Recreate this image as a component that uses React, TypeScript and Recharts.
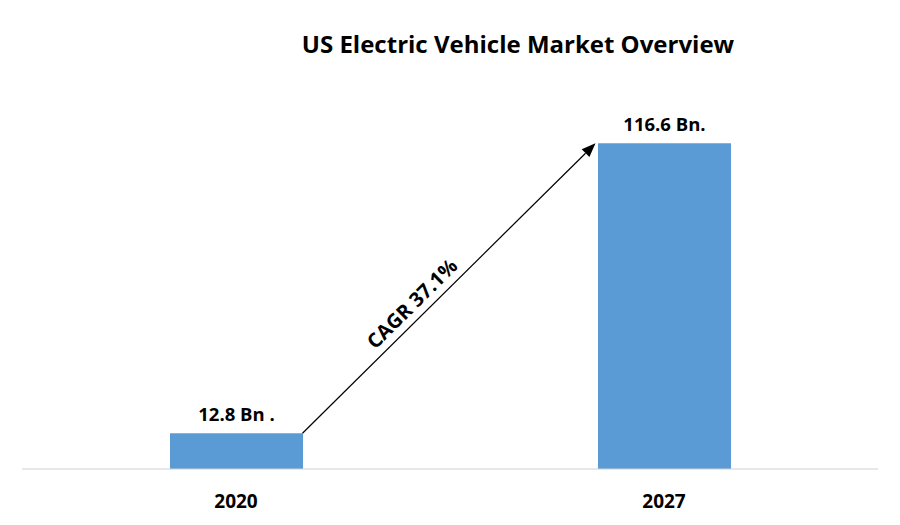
import { Bar, BarChart, LabelList, ReferenceLine, XAxis, YAxis } from "recharts";

// Values.
const years = ["2020", "2027"];
const marketSize = [12.8, 116.6];
const valueLabels = ["12.8 Bn .", "116.6 Bn."];
const cagrText = "CAGR 37.1%";

const data = years.map((year, i) => ({
  year,
  value: marketSize[i],
  label: valueLabels[i],
}));

const FONT = "'Open Sans', 'Noto Sans', sans-serif";
const BAR_SIZE = 133;
const BAR_COLOR = "#5B9BD5";

/** Year ticks under the axis. */
function YearTick(props: any) {
  const { x, y, payload } = props;
  return (
    <text
      x={x}
      y={y + 26}
      textAnchor="middle"
      dominantBaseline="middle"
      fontFamily={FONT}
      fontWeight={700}
      fontSize={19}
      fill="#000"
    >
      {payload.value}
    </text>
  );
}

/** Arrow running from the top-right corner of the first bar to the
 *  top-left corner of the second one, with the CAGR text along it. */
function CagrArrow(props: any) {
  const { x1, y1, x2, y2 } = props;
  if (x1 == null || x2 == null) return null;
  const sx = x1 + BAR_SIZE / 2;
  const sy = y1;
  const ex = x2 - BAR_SIZE / 2 - 2;
  const ey = y2;
  const ang = Math.atan2(ey - sy, ex - sx);
  const head = 14;
  const half = 5.5;
  const bx = ex - head * Math.cos(ang);
  const by = ey - head * Math.sin(ang);
  const px = -Math.sin(ang) * half;
  const py = Math.cos(ang) * half;
  const t = 0.41;
  const tx = sx + (ex - sx) * t;
  const ty = sy + (ey - sy) * t;
  const deg = (ang * 180) / Math.PI;
  return (
    <g>
      <line x1={sx} y1={sy} x2={bx} y2={by} stroke="#000" strokeWidth={1.2} />
      <polygon
        points={`${ex},${ey} ${bx + px},${by + py} ${bx - px},${by - py}`}
        fill="#000"
      />
      <text
        x={tx}
        y={ty}
        dy={-8}
        transform={`rotate(${deg} ${tx} ${ty})`}
        textAnchor="middle"
        fontFamily={FONT}
        fontWeight={700}
        fontSize={20}
        fill="#000"
      >
        {cagrText}
      </text>
    </g>
  );
}

export default function App() {
  return (
    <div style={{ position: "absolute", left: 0, top: 0, width: 900, height: 525, background: "#fff" }}>
      <svg width={900} height={70} style={{ position: "absolute", left: 0, top: 0 }}>
        <text
          x={518}
          y={47}
          textAnchor="middle"
          dominantBaseline="middle"
          fontFamily={FONT}
          fontWeight={700}
          fontSize={24}
          fill="#000"
        >
          US Electric Vehicle Market Overview
        </text>
      </svg>
      <BarChart
        width={900}
        height={525}
        data={data}
        margin={{ top: 78, right: 22, left: 22, bottom: 16 }}
      >
        <XAxis
          dataKey="year"
          axisLine={{ stroke: "#D0D0D0", strokeWidth: 1 }}
          tickLine={false}
          height={40}
          tick={<YearTick />}
          interval={0}
        />
        <YAxis hide domain={[0, 140]} />
        <Bar dataKey="value" fill={BAR_COLOR} barSize={BAR_SIZE} isAnimationActive={false}>
          <LabelList
            dataKey="label"
            position="top"
            offset={12}
            fontFamily={FONT}
            fontWeight={700}
            fontSize={18.5}
            fill="#000"
          />
        </Bar>
        <ReferenceLine
          segment={[
            { x: years[0], y: marketSize[0] },
            { x: years[1], y: marketSize[1] },
          ]}
          shape={<CagrArrow />}
        />
      </BarChart>
    </div>
  );
}
